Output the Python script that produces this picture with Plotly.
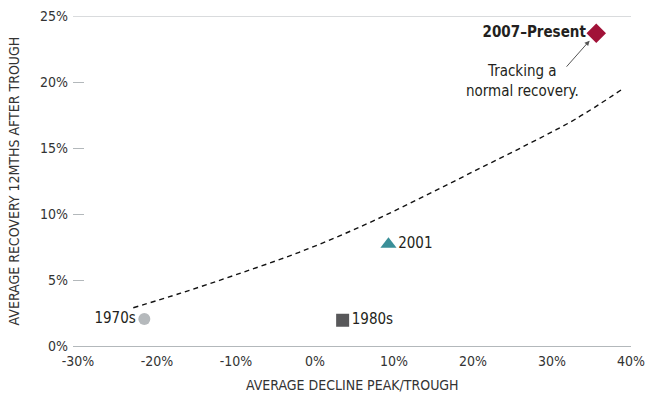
import plotly.graph_objects as go

# Recession eras: average peak-to-trough decline vs. average 12-month recovery (%)
era_labels = ["1970s", "1980s", "2001", "2007–Present"]
avg_decline = [-21.6, 3.5, 9.3, 35.6]
avg_recovery = [2.05, 1.95, 7.7, 23.7]
marker_symbols = ["circle", "square", "triangle-up", "diamond"]
marker_colors = ["#b5b9bc", "#58585a", "#3a8f98", "#a11238"]
marker_sizes = [12, 13, 14, 15]
label_positions = ["middle left", "middle right", "middle right", "middle left"]

# "Normal recovery" trend line
trend_decline = [-23, -17, -10, -2, 6, 13, 20, 27, 33, 39]
trend_recovery = [2.9, 4.0, 5.4, 7.1, 9.1, 11.1, 13.2, 15.3, 17.2, 19.5]

x_ticks = [-30, -20, -10, 0, 10, 20, 30, 40]
y_ticks = [0, 5, 10, 15, 20, 25]

FONT = "Liberation Sans Narrow, Arial Narrow, DejaVu Sans Condensed, sans-serif"
AXIS_GRAY = "#b3b8bb"
TEXT = "#231f20"

fig = go.Figure()

fig.add_trace(go.Scatter(
    x=trend_decline, y=trend_recovery, mode="lines",
    line=dict(color="#111111", width=1.4, dash="5px,4px", shape="spline"),
    hoverinfo="skip", showlegend=False,
))

point_text = [f"<b>{t}</b>" if i == 3 else t for i, t in enumerate(era_labels)]
fig.add_trace(go.Scatter(
    x=avg_decline, y=avg_recovery, mode="markers+text",
    text=point_text, textposition=label_positions,
    textfont=dict(family=FONT, size=15, color=TEXT),
    marker=dict(symbol=marker_symbols, color=marker_colors, size=marker_sizes,
                opacity=1, line=dict(width=0)),
    showlegend=False, cliponaxis=False,
))

# Arrow pointing at the current cycle, plus its caption
fig.add_annotation(
    x=avg_decline[3], y=avg_recovery[3], ax=-31, ay=35,
    text="", showarrow=True, arrowhead=2, arrowsize=1, arrowwidth=1,
    arrowcolor="#555555", standoff=10,
)
fig.add_annotation(
    x=26.3, y=20.1, text="Tracking a<br>normal recovery.", showarrow=False,
    font=dict(family=FONT, size=15, color=TEXT), align="center",
)

# Axis titles
fig.add_annotation(
    xref="paper", yref="paper", x=0.5, y=-0.118, yanchor="middle",
    text="AVERAGE DECLINE PEAK/TROUGH", showarrow=False,
    font=dict(family=FONT, size=14, color="#333333"),
)
fig.add_annotation(
    xref="paper", yref="paper", x=-0.105, y=0.5, xanchor="center",
    text="AVERAGE RECOVERY 12MTHS AFTER TROUGH", showarrow=False, textangle=-90,
    font=dict(family=FONT, size=14, color="#333333"),
)

# Top frame line at 25%
fig.add_shape(type="line", xref="paper", yref="y", x0=0, x1=1, y0=25, y1=25,
              line=dict(color=AXIS_GRAY, width=1))

fig.update_xaxes(
    range=[-30.63, 40], tickvals=x_ticks, ticktext=[f"{v}%" for v in x_ticks],
    showgrid=False, zeroline=False, showline=True, linecolor=AXIS_GRAY, linewidth=1,
    ticks="", ticklabelstandoff=2,
    tickfont=dict(family=FONT, size=14, color="#333333"), automargin=False,
)
fig.update_yaxes(
    range=[0, 25], tickvals=y_ticks, ticktext=[f"{v}%" for v in y_ticks],
    showgrid=False, zeroline=False, showline=False,
    ticks="inside", ticklen=11, tickcolor=AXIS_GRAY, tickwidth=1,
    ticklabelstandoff=4,
    tickfont=dict(family=FONT, size=14, color="#333333"), automargin=False,
)

fig.update_layout(
    width=649, height=400,
    margin=dict(l=73, r=18, t=16, b=54),
    plot_bgcolor="white", paper_bgcolor="white",
    font=dict(family=FONT),
)

fig.write_html("out.html")
